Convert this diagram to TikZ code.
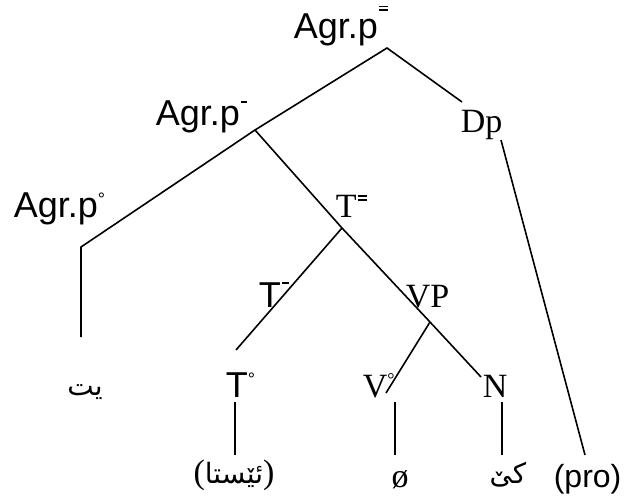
\documentclass[tikz,border=0pt]{standalone}
\usepackage{fontspec}
\setmainfont{Liberation Serif}
\newfontfamily\arialfont{Liberation Sans}
\newfontfamily\arabicfont[Script=Arabic]{DejaVu Sans}
\TeXXeTstate=1
\newcommand\hi[2]{\raisebox{#1}{\fontsize{18}{18}\selectfont #2}}
\newcommand\bareq[2]{\kern1pt\rlap{\rule[#1]{#2}{1.8pt}}\rule[\dimexpr#1+3.6pt\relax]{#2}{1.8pt}}
\newcommand\barmin[2]{\kern1.5pt\rule[#1]{#2}{1.8pt}}

\begin{document}
\begin{tikzpicture}[x=1pt,y=-1pt,line width=1.6pt,
    lbl/.style={inner sep=0pt,anchor=base west,font=\fontsize{34}{40}\selectfont},
    sans/.style={lbl,font=\arialfont\fontsize{36}{42}\selectfont},
    arab/.style={inner sep=0pt,font=\arabicfont\fontsize{28}{34}\selectfont},
    paren/.style={font=\rmfamily\fontsize{36}{42}\selectfont}]
  \useasboundingbox (0,0) rectangle (625,499);
  \node[sans] (agrTop) at (293,38) {Agr.p\bareq{27pt}{9pt}};
  \node[sans] (agrMid) at (155,125) {Agr.p\barmin{22pt}{6pt}};
  \node[sans] (agrLow) at (13,217) {Agr.p\hi{12pt}{°}};
  \node[lbl] (dp) at (460,132) {Dp};
  \node[lbl] (tbar) at (335,217) {T\bareq{16.5pt}{9pt}};
  \node[sans] (tmin) at (258,307) {T\barmin{23pt}{7pt}};
  \node[lbl] (vp) at (405,307) {VP};
  \node[sans] (tzero) at (225,397) {T\hi{12pt}{°}};
  \node[lbl] (vzero) at (362,397) {V\hi{12pt}{°}};
  \node[lbl] (n) at (482,397) {N};
  \node[arab] (yt) at (85,392) {\beginR يت\endR};
  \node[arab] (now) at (234,475) {{\rmfamily\fontsize{34}{40}\selectfont(}\beginR ئێستا\endR{\rmfamily\fontsize{34}{40}\selectfont)}};
  \node[lbl,anchor=center] (null) at (400,480) {ø};
  \node[arab] (ke) at (508,475) {\beginR کێ\endR};
  \node[sans,font=\arialfont\fontsize{32}{38}\selectfont] (pro) at (553,487) {(pro)};
  \coordinate (jA) at (387,48);
  \coordinate (jB) at (255,130);
  \coordinate (jT) at (342,228);
  \coordinate (jV) at (430,322);
  \coordinate (kAgr) at (81,247);
  \coordinate (eAgr) at (81,337);
  \coordinate (eDp) at (462,102);
  \coordinate (sDp) at (501,140);
  \coordinate (ePro) at (585,455);
  \coordinate (eTmin) at (236,350);
  \coordinate (eV) at (386,393);
  \coordinate (eN) at (481,377);
  \draw (eDp) -- (jA) -- (jB) -- (kAgr) -- (eAgr);
  \draw (jB) -- (jT) -- (jV) -- (eN);
  \draw (jT) -- (eTmin);
  \draw (jV) -- (eV);
  \draw (sDp) -- (ePro);
  \draw (235,402) -- (235,455);
  \draw (395,402) -- (395,455);
  \draw (502,402) -- (502,455);
\end{tikzpicture}
\end{document}
